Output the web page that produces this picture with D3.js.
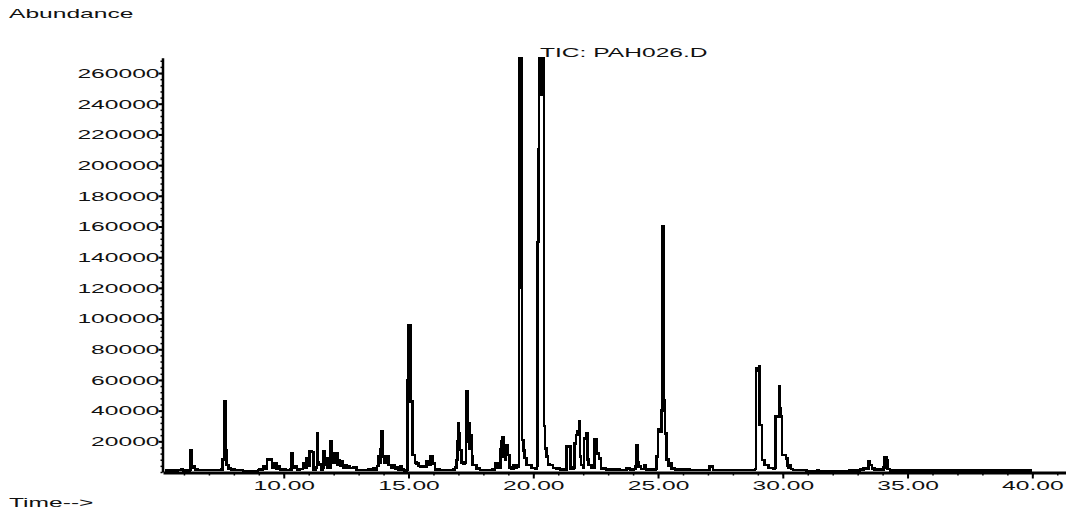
<!DOCTYPE html>
<html>
<head>
<meta charset="utf-8">
<script src="https://cdn.jsdelivr.net/npm/d3@7/dist/d3.min.js"></script>
<style>
  body { margin: 0; background: #fff; }
  text { font-family: "Liberation Sans", Arial, sans-serif; font-size: 12px; fill: #111; }
</style>
</head>
<body>
<script>
//chromatogram data (time in min, abundance)
var times = [
    5.24, 5.44, 5.76, 5.91, 5.96, 6.18, 6.22, 6.26, 6.30, 6.40, 6.44, 6.56,
    6.84, 7.24, 7.51, 7.55, 7.60, 7.63, 7.66, 7.70, 7.78, 7.88, 8.04, 8.28, 8.37, 8.65, 8.89, 8.97,
    9.03, 9.13, 9.17, 9.25, 9.33, 9.43, 9.53, 9.64, 9.71, 9.77, 9.85, 10.00, 10.09,
    10.27, 10.30, 10.35, 10.44, 10.53, 10.65, 10.77, 10.83, 10.90, 10.95, 11.04, 11.13, 11.20,
    11.29, 11.33, 11.37, 11.41, 11.50, 11.57, 11.60, 11.65, 11.70, 11.75, 11.80, 11.85, 11.88,
    11.91, 11.94, 11.99, 12.04, 12.07, 12.10, 12.15, 12.20, 12.25, 12.30, 12.37, 12.44, 12.51,
    12.57, 12.65, 12.77, 12.91,
    13.13, 13.37, 13.59, 13.66, 13.74, 13.79, 13.84, 13.88, 13.90, 13.95, 13.98, 14.04, 14.13,
    14.19, 14.30, 14.39, 14.46, 14.53, 14.60, 14.66, 14.72, 14.82,
    14.94, 14.97, 14.99, 15.07, 15.11, 15.15, 15.18, 15.26, 15.33, 15.40, 15.46, 15.58, 15.73,
    15.80, 15.89, 15.97, 16.06, 16.26, 16.58, 16.78, 16.86, 16.93, 16.96, 16.99, 17.02, 17.06,
    17.12, 17.19, 17.26, 17.30, 17.33, 17.36, 17.39, 17.44, 17.50, 17.54, 17.57, 17.73, 17.86,
    18.14, 18.34, 18.46, 18.56, 18.65, 18.69, 18.71, 18.75, 18.77, 18.80, 18.82, 18.86, 18.91,
    18.96, 19.04, 19.11, 19.20, 19.27, 19.33, 19.41,
    19.43, 19.45, 19.55, 19.60, 19.65, 19.74, 19.94, 20.07, 20.15, 20.17, 20.20, 20.23, 20.29,
    20.32, 20.36, 20.40, 20.43, 20.47, 20.54, 20.59, 20.67, 20.79, 20.94, 21.07,
    21.29, 21.32, 21.47, 21.50, 21.61, 21.64, 21.71, 21.78, 21.84, 21.88, 21.91, 22.01, 22.04,
    22.13, 22.17, 22.21, 22.34, 22.42, 22.46, 22.55, 22.63, 22.71, 22.91, 23.48, 23.74, 23.88,
    24.04, 24.10, 24.14, 24.17, 24.21, 24.31, 24.42, 24.46, 24.52, 24.74,
    24.90, 24.94, 25.00, 25.05, 25.11, 25.14, 25.17, 25.21, 25.24, 25.28, 25.34, 25.41, 25.50,
    25.54, 25.68, 26.28, 26.88, 27.04, 27.07, 27.15, 27.21, 27.68, 28.26, 28.67,
    28.89, 28.92, 28.95, 29.05, 29.07, 29.14, 29.17, 29.26, 29.42, 29.62, 29.69, 29.71, 29.80,
    29.85, 29.89, 29.93, 29.96, 30.05, 30.13, 30.18, 30.23, 30.29, 30.33, 30.41, 30.93, 30.95,
    31.37, 31.38, 31.43, 32.61, 32.65, 32.93, 33.09, 33.23, 33.38, 33.43, 33.50, 33.57, 33.67,
    33.98, 34.04, 34.07, 34.16, 34.19, 34.30, 36.70, 38.71, 39.98
];
var abundance = [
    1000, 1000, 1300, 2000, 1000, 1000, 1200, 13900, 3000, 3500, 1500, 1200,
    1300, 1200, 1500, 8000, 30000, 45800, 14000, 4500, 2400, 1500, 1300, 1200, 300, 200, 600, 1300,
    2000, 1500, 3900, 2000, 8500, 8000, 2500, 5800, 2000, 3500, 1500, 2000, 1300,
    1500, 12400, 3000, 3500, 1500, 2000, 5900, 2500, 9100, 4000, 13200, 13000, 1500,
    3000, 25200, 6000, 5000, 1500, 3000, 13200, 5000, 9000, 3000, 6000, 3000, 19700,
    8000, 12300, 6000, 10000, 6000, 12300, 5000, 7800, 4000, 6700, 3000, 4500, 2500,
    3900, 2500, 3000, 1300,
    1200, 1500, 2400, 1500, 4000, 10000, 6000, 15000, 26300, 25200, 10000, 6000, 10000,
    4500, 2500, 4500, 2000, 3000, 1500, 3500, 1500, 1000,
    1500, 60000, 95800, 45800, 45800, 11000, 11000, 6000, 5600, 4000, 3500, 3500, 6700,
    5000, 10000, 5600, 1500, 1200, 1300, 1500, 3000, 7800, 20000, 31700, 25000, 14300,
    6000, 5600, 6000, 20000, 52300, 35000, 31700, 15000, 24100, 10000, 4500, 2400, 1300,
    1200, 1500, 5600, 2500, 3000, 15000, 19700, 12000, 22600, 10000, 14300, 8000, 17600,
    11000, 3000, 2000, 4500, 3000, 4500, 3500,
    120000, 400000, 20800, 14000, 9000, 4500, 2500, 2000, 4000, 150000, 210000, 300000, 300000,
    246000, 300000, 300000, 30000, 15400, 10000, 5000, 4500, 2500, 2400, 1500,
    1500, 16500, 16500, 2000, 3000, 18700, 24100, 26300, 33200, 10000, 4500, 3000, 21900,
    25200, 8000, 4500, 2500, 3000, 21300, 12200, 8900, 2400, 1500, 1200, 2400, 1500,
    2000, 4000, 17600, 6000, 3500, 2000, 2000, 4500, 1800, 1500,
    2000, 10000, 27800, 26000, 26300, 40000, 160000, 55000, 47000, 25000, 8000, 4000, 5600,
    2400, 1500, 1300, 1300, 1500, 3500, 3500, 1300, 1200, 1300, 1300,
    2000, 66000, 67600, 68600, 30600, 30600, 7800, 4500, 2500, 2400, 3000, 36000, 36000,
    55600, 41500, 36000, 11000, 11000, 8900, 4000, 2500, 4500, 2000, 1400, 1400, 300,
    300, 1200, 300, 300, 1000, 1000, 1500, 2400, 2400, 7100, 4500, 2400, 1500,
    1200, 3000, 9500, 7800, 2000, 1000, 900, 800, 800
];

//axis ticks
var xLabels = [10, 15, 20, 25, 30, 35, 40];
var xMinor = d3.range(6, 42, 1);
var yLabels = [20000, 40000, 60000, 80000, 100000, 120000, 140000, 160000, 180000, 200000, 220000, 240000, 260000];
var yMinor = d3.range(0, 270000, 4000);
var titleText = "TIC: PAH026.D";

var width = 1066,
    height = 511;
var stretch = 2.05; //the text in the reference is drawn wide

var svg = d3.select("body").append("svg")
    .attr("width", width)
    .attr("height", height);

var xScale = d3.scaleLinear()
    .domain([5.16, 41.35])
    .range([163, 1066]);

var yScale = d3.scaleLinear()
    .domain([0, 270000])
    .range([472, 57.7]);

//clip tall peaks at the top of the axis
svg.append("clipPath")
    .attr("id", "plotclip")
    .append("rect")
    .attr("x", 163).attr("y", 57)
    .attr("width", 903).attr("height", 420);

var data = times.map(function(t, i) {
    return { time: t, value: abundance[i] };
});

//instrument trace is drawn as steps
var line = d3.line()
    .curve(d3.curveStepAfter)
    .x(function(d) { return xScale(d.time); })
    .y(function(d) { return yScale(d.value); });

svg.append("path")
    .datum(data)
    .attr("clip-path", "url(#plotclip)")
    .attr("fill", "none")
    .attr("stroke", "#000")
    .attr("stroke-width", 2.6)
    .attr("stroke-linejoin", "miter")
    .attr("shape-rendering", "crispEdges")
    .attr("d", line);

//x axis: minor ticks, then labelled major ticks
svg.append("g")
    .attr("transform", "translate(0,472.5)")
    .call(d3.axisBottom(xScale).tickValues(xMinor).tickSize(3).tickSizeOuter(0).tickFormat(""))
    .call(function(g) {
        g.select(".domain").attr("stroke-width", 3);
        g.selectAll(".tick line").attr("stroke-width", 1.5);
    });

var xAxis = svg.append("g")
    .attr("transform", "translate(0,472.5)")
    .call(d3.axisBottom(xScale).tickValues(xLabels).tickSize(6).tickSizeOuter(0)
        .tickFormat(function(d) { return d3.format(".2f")(d); }));
xAxis.select(".domain").remove();
xAxis.selectAll(".tick line").attr("stroke-width", 2);
xAxis.selectAll(".tick text")
    .attr("y", 18).attr("dy", 0)
    .attr("font-size", null).attr("font-family", null)
    .attr("transform", "scale(" + stretch + ",1)");

//y axis
svg.append("g")
    .attr("transform", "translate(162.5,0)")
    .call(d3.axisLeft(yScale).tickValues(yMinor).tickSize(2).tickSizeOuter(0).tickFormat(""))
    .call(function(g) {
        g.select(".domain").attr("stroke-width", 2.5);
        g.selectAll(".tick line").attr("stroke-width", 1.5);
    });

var yAxis = svg.append("g")
    .attr("transform", "translate(162.5,0)")
    .call(d3.axisLeft(yScale).tickValues(yLabels).tickSize(4).tickSizeOuter(0).tickFormat(d3.format("d")));
yAxis.select(".domain").remove();
yAxis.selectAll(".tick line").attr("stroke-width", 2);
yAxis.selectAll(".tick text")
    .attr("x", -3 / stretch).attr("dy", "0.36em")
    .attr("font-size", null).attr("font-family", null)
    .attr("transform", "scale(" + stretch + ",1)");

//labels
function stretchedText(str, x, y) {
    svg.append("text")
        .attr("transform", "translate(" + x + "," + y + ") scale(" + stretch + ",1)")
        .text(str);
}
stretchedText("Abundance", 9, 18);
stretchedText(titleText, 540, 57);
stretchedText("Time-->", 9, 507);
</script>
</body>
</html>
